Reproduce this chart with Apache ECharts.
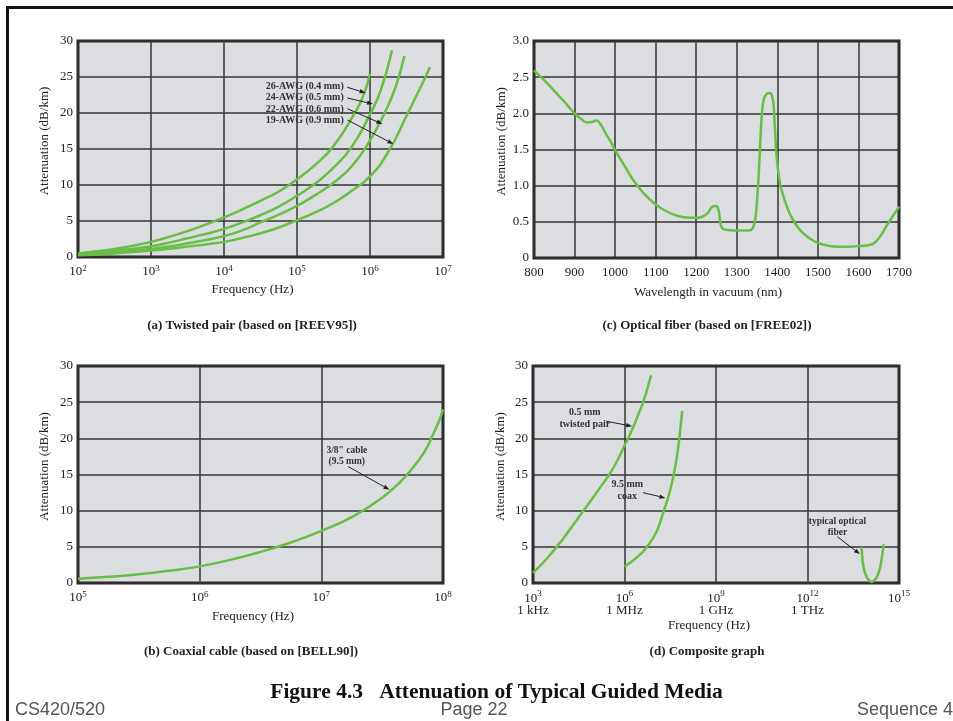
<!DOCTYPE html>
<html><head><meta charset="utf-8">
<script src="https://cdn.jsdelivr.net/npm/echarts@6/dist/echarts.min.js"></script>
<style>html,body{margin:0;padding:0;background:#fff}#c{width:953px;height:721px}</style>
</head><body><div id="c"></div><script>
// ---------- data ----------
// (a) twisted pair: [frequency Hz, attenuation dB/km]
const awg26 = [[100,0.5],[178,0.8],[316,1.1],[562,1.55],[1e3,2.1],[1778,2.8],[3162,3.6],[5623,4.5],[1e4,5.5],[17783,6.6],[31623,7.8],[56234,9.1],[1e5,10.8],[177828,12.8],[316228,15.4],[562341,19.3],[794328,22.2],[1e6,25.5]];
const awg24 = [[100,0.4],[178,0.6],[316,0.85],[562,1.15],[1e3,1.5],[1778,2.0],[3162,2.6],[5623,3.2],[1e4,3.9],[17783,4.8],[31623,5.8],[56234,7.0],[1e5,8.5],[177828,10.2],[316228,12.4],[562341,15.3],[1e6,19.8],[1.41e6,23.2],[2.0e6,28.7]];
const awg22 = [[100,0.3],[178,0.45],[316,0.6],[562,0.85],[1e3,1.1],[1778,1.45],[3162,1.9],[5623,2.35],[1e4,2.9],[17783,3.7],[31623,4.8],[56234,5.9],[1e5,7.1],[177828,8.6],[316228,10.3],[562341,12.6],[1e6,16.2],[1.585e6,20.0],[2.239e6,23.6],[2.951e6,27.9]];
const awg19 = [[100,0.25],[178,0.35],[316,0.5],[562,0.7],[1e3,0.9],[1778,1.15],[3162,1.45],[5623,1.75],[1e4,2.1],[17783,2.65],[31623,3.3],[56234,4.1],[1e5,5.1],[177828,6.2],[316228,7.5],[562341,9.2],[1e6,11.2],[1.778e6,14.6],[3.162e6,19.6],[4.467e6,22.7],[5.754e6,25.0],[6.607e6,26.4]];
const twistedNames = ['26-AWG (0.4 mm)','24-AWG (0.5 mm)','22-AWG (0.6 mm)','19-AWG (0.9 mm)'];
// (b) coaxial cable
const coax = [[1e5,0.6],[177828,0.85],[316228,1.2],[562341,1.7],[1e6,2.3],[1.778e6,3.2],[3.162e6,4.3],[5.623e6,5.6],[1e7,7.2],[1.778e7,9.1],[3.162e7,11.8],[4.467e7,14.0],[5.623e7,15.9],[7.079e7,18.2],[8.318e7,20.6],[9.333e7,22.5],[1e8,24.0]];
// (c) optical fiber: [wavelength nm, attenuation dB/km]
const fiber = [[800,2.59],[825,2.46],[850,2.31],[875,2.16],[900,2.0],[915,1.93],[930,1.875],[942,1.88],[955,1.9],[963,1.86],[975,1.74],[990,1.6],[1000,1.49],[1015,1.35],[1030,1.21],[1048,1.05],[1065,0.93],[1080,0.84],[1100,0.74],[1125,0.65],[1150,0.59],[1175,0.56],[1200,0.555],[1215,0.57],[1228,0.62],[1238,0.7],[1246,0.72],[1252,0.71],[1256,0.64],[1259,0.5],[1263,0.42],[1272,0.39],[1300,0.38],[1330,0.38],[1340,0.42],[1346,0.55],[1350,0.8],[1354,1.15],[1358,1.6],[1362,2.0],[1367,2.2],[1374,2.27],[1381,2.28],[1387,2.24],[1391,2.1],[1394,1.8],[1397,1.5],[1401,1.25],[1408,1.0],[1418,0.8],[1430,0.62],[1445,0.47],[1460,0.36],[1480,0.27],[1500,0.21],[1525,0.17],[1550,0.155],[1575,0.155],[1600,0.165],[1625,0.175],[1640,0.21],[1655,0.31],[1670,0.45],[1685,0.58],[1700,0.71]];
// (d) composite
const compTwisted = [[1e3,1.4],[3162,3.6],[1e4,6.2],[31623,9.1],[1e5,12.0],[177828,13.5],[316228,15.0],[562341,16.8],[1e6,19.0],[1.778e6,21.2],[3.162e6,23.8],[4.266e6,25.2],[7.413e6,28.7]];
const compCoax = [[1e6,2.3],[1.585e6,2.85],[2.57e6,3.56],[3.98e6,4.3],[7.08e6,5.65],[1e7,6.7],[1.32e7,7.8],[1.95e7,10.0],[2.82e7,12.1],[4.07e7,14.9],[5.5e7,18.1],[6.76e7,21.3],[7.76e7,23.8]];
const compFiber = [[5.89e13,5.0],[6.17e13,3.9],[6.46e13,2.9],[7.24e13,1.8],[8.13e13,1.1],[1.0e14,0.45],[1.26e14,0.15],[1.51e14,0.3],[1.82e14,0.7],[2.14e14,1.4],[2.45e14,2.3],[2.88e14,4.1],[3.16e14,5.35]];
const compUnits = {3:'1 kHz',6:'1 MHz',9:'1 GHz',12:'1 THz'};

// ---------- styles ----------
const serif = '"Liberation Serif","Times New Roman",serif';
const sans = '"Liberation Sans",Arial,sans-serif';
const G = '#69be46';
const gridStyle = {show:true, backgroundColor:'#dcdde0', borderColor:'#222', borderWidth:3, outerBoundsMode:'none', containLabel:false};
const split = {show:true, lineStyle:{color:'#333', width:1.5}};
const nameStyle = (pad) => ({fontFamily:serif, fontSize:13, color:'#222', padding:pad});
const supRich = {
  b:{fontFamily:serif, fontSize:13, color:'#222', lineHeight:14, verticalAlign:'bottom'},
  s:{fontFamily:serif, fontSize:9, color:'#222', verticalAlign:'top', padding:[0,0,4,0]},
  u:{fontFamily:serif, fontSize:13, color:'#222', lineHeight:12}
};
const supRichD = {
  b:{fontFamily:serif, fontSize:13, color:'#222', lineHeight:12, verticalAlign:'bottom'},
  s:{fontFamily:serif, fontSize:9, color:'#222', verticalAlign:'top', padding:[0,0,7,0]},
  u:{fontFamily:serif, fontSize:13, color:'#222', lineHeight:12}
};
function sup(v){ const e = Math.round(Math.log10(v)); return '{b|10}{s|' + e + '}'; }
function supD(v){ const e = Math.round(Math.log10(v)); return '{b|10}{s|' + e + '}' + (compUnits[e] ? '\n{u|' + compUnits[e] + '}' : ''); }

function logX(i, min, max, base, name, gap, fmt, rich, pad, margin){
  return {type:'log', logBase:base, min:min, max:max, gridIndex:i,
    splitLine:split, axisLine:{show:false}, axisTick:{show:false}, minorTick:{show:false},
    axisLabel:{formatter:fmt, rich:rich, margin:margin, color:'#222', fontFamily:serif, fontSize:13},
    name:name, nameLocation:'middle', nameGap:gap, nameTextStyle:nameStyle(pad)};
}
function valY(i, max, step, fmt, gap){
  return {type:'value', min:0, max:max, interval:step, gridIndex:i,
    splitLine:split, axisLine:{show:false}, axisTick:{show:false},
    axisLabel:{formatter:fmt, margin:5, color:'#222', fontFamily:serif, fontSize:13},
    name:'Attenuation (dB/km)', nameLocation:'middle', nameGap:gap, nameTextStyle:nameStyle([0,0,0,16])};
}
function line(i, data, sm){
  return {type:'line', xAxisIndex:i, yAxisIndex:i, data:data, showSymbol:false, smooth:sm,
    lineStyle:{color:G, width:2.5}, itemStyle:{color:G}, silent:true, clip:true};
}

const chart = echarts.init(document.getElementById('c'), null, {renderer:'canvas'});
chart.setOption({
  animation:false,
  backgroundColor:'#fff',
  grid:[
    Object.assign({left:78, top:41, width:365, height:216}, gridStyle),
    Object.assign({left:534, top:41, width:365, height:217}, gridStyle),
    Object.assign({left:78, top:366, width:365, height:217}, gridStyle),
    Object.assign({left:533, top:366, width:366, height:217}, gridStyle)
  ],
  xAxis:[
    logX(0, 1e2, 1e7, 10, 'Frequency (Hz)', 26, sup, supRich, [0,16,0,0], 7),
    {type:'value', min:800, max:1700, interval:100, gridIndex:1, splitLine:split, axisLine:{show:false}, axisTick:{show:false},
      axisLabel:{formatter:v => String(v), margin:8, color:'#222', fontFamily:serif, fontSize:13},
      name:'Wavelength in vacuum (nm)', nameLocation:'middle', nameGap:28, nameTextStyle:nameStyle([0,17,0,0])},
    logX(2, 1e5, 1e8, 10, 'Frequency (Hz)', 27, sup, supRich, [0,15,0,0], 7),
    logX(3, 1e3, 1e15, 1000, 'Frequency (Hz)', 36, supD, supRichD, [0,14,0,0], 6)
  ],
  yAxis:[
    valY(0, 30, 5, null, 27),
    valY(1, 3, 0.5, v => v === 0 ? '0' : v.toFixed(1), 26),
    valY(2, 30, 5, null, 27),
    valY(3, 30, 5, null, 26)
  ],
  series:[
    line(0, awg26, 0.5), line(0, awg24, 0.5), line(0, awg22, 0.5), line(0, awg19, 0.5),
    line(1, fiber, 0.35),
    line(2, coax, 0.5),
    line(3, compTwisted, 0.5), line(3, compCoax, 0.5), line(3, compFiber, 0.4)
  ]
});

// ---------- annotations (anchored in data coordinates) ----------
const noteFont = 'bold 9.5px ' + serif;
const g = [];
function P(i, p){ return chart.convertToPixel({gridIndex:i}, p); }
function txt(p, s, align, font, lh){
  g.push({type:'text', z:100, style:{text:s, x:p[0], y:p[1], align:align, verticalAlign:'middle', font:font, fill:'#333', lineHeight:lh||11}});
}
function arrow(p1, p2){
  const dx=p2[0]-p1[0], dy=p2[1]-p1[1], L=Math.hypot(dx,dy), ux=dx/L, uy=dy/L;
  const hl=6, hw=2.2, bx=p2[0]-ux*hl, by=p2[1]-uy*hl;
  g.push({type:'line', z:100, shape:{x1:p1[0],y1:p1[1],x2:bx,y2:by}, style:{stroke:'#222', lineWidth:1}});
  g.push({type:'polygon', z:100, shape:{points:[[p2[0],p2[1]],[bx-uy*hw,by+ux*hw],[bx+uy*hw,by-ux*hw]]}, style:{fill:'#222'}});
}
// (a)
const aLabelY = [23.7, 22.1, 20.5, 18.9];
const aArrowStart = [[4.9e5,23.57],[4.9e5,22.08],[4.9e5,20.6],[4.9e5,19.03]];
const aArrowEnd = [[8.7e5,22.78],[1.1e6,21.25],[1.48e6,18.47],[2.09e6,15.7]];
twistedNames.forEach((n, k) => {
  txt(P(0,[4.37e5, aLabelY[k]]), n, 'right', 'bold 10px ' + serif);
  arrow(P(0, aArrowStart[k]), P(0, aArrowEnd[k]));
});
// (b)
txt(P(2,[1.62e7,17.6]), '3/8" cable\n(9.5 mm)', 'center', noteFont, 11);
arrow(P(2,[1.66e7,16.1]), P(2,[3.63e7,12.9]));
// (d)
txt(P(3,[5.0e4,22.75]), '0.5 mm\ntwisted pair', 'center', 'bold 10px ' + serif, 12);
arrow(P(3,[2.5e5,22.37]), P(3,[1.78e6,21.67]));
txt(P(3,[1.23e6,12.8]), '9.5 mm\ncoax', 'center', 'bold 10px ' + serif, 12);
arrow(P(3,[4.07e6,12.49]), P(3,[2.19e7,11.76]));
txt(P(3,[9.55e12,7.7]), 'typical optical\nfiber', 'center', noteFont, 11);
arrow(P(3,[9.55e12,6.4]), P(3,[5.25e13,4.0]));

// captions, title, footer, frame
function cap(x, y, s){ g.push({type:'text', z:100, style:{text:s, x:x, y:y, align:'center', verticalAlign:'middle', font:'bold 13px ' + serif, fill:'#222'}}); }
cap(252, 326, '(a) Twisted pair (based on [REEV95])');
cap(707, 326, '(c) Optical fiber (based on [FREE02])');
cap(251, 652, '(b) Coaxial cable (based on [BELL90])');
cap(707, 652, '(d) Composite graph');
g.push({type:'text', z:100, style:{text:'Figure 4.3   Attenuation of Typical Guided Media', x:496.5, y:692, align:'center', verticalAlign:'middle', font:'bold 21.5px ' + serif, fill:'#111'}});
g.push({type:'text', z:100, style:{text:'CS420/520', x:15, y:710, align:'left', verticalAlign:'middle', font:'18px ' + sans, fill:'#555'}});
g.push({type:'text', z:100, style:{text:'Page 22', x:474, y:710, align:'center', verticalAlign:'middle', font:'18px ' + sans, fill:'#555'}});
g.push({type:'text', z:100, style:{text:'Sequence 4', x:857, y:710, align:'left', verticalAlign:'middle', font:'18px ' + sans, fill:'#555'}});
g.push({type:'polyline', z:100, shape:{points:[[7.5,721],[7.5,7.5],[953,7.5]]}, style:{stroke:'#111', lineWidth:3, fill:null}});
chart.setOption({graphic:{elements:g}});
</script></body></html>
